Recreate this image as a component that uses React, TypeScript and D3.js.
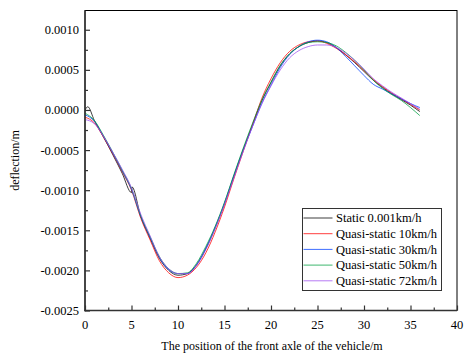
import React, { useEffect, useRef } from 'react';
import * as d3 from 'd3';

// x positions (m) shared by the quasi-static runs
const positions = [
  0, 1, 2, 3, 4, 5, 6, 7, 8, 9, 10, 11, 12, 13, 14, 15, 16, 17, 18,
  19, 20, 21, 22, 23, 24, 25, 26, 27, 28, 29, 30, 31, 32, 33, 34, 35, 36,
];
// the static run has a couple of extra points (start spike and kink at 5 m)
const staticPositions = [
  0, 0.3, 1, 2, 3, 4, 5, 5.05, 6, 7, 8, 9, 10, 11, 12, 13, 14, 15, 16, 17, 18,
  19, 20, 21, 22, 23, 24, 25, 26, 27, 28, 29, 30, 31, 32, 33, 34, 35, 36,
];

const static001 = [
  0.0, 0.00004, -0.00013, -0.00034, -0.00056, -0.00079, -0.00103, -0.00096, -0.00133,
  -0.0016, -0.00185, -0.002, -0.00206, -0.00204, -0.00193, -0.00173, -0.00147, -0.00117,
  -0.00083, -0.0005, -0.00019, 0.00011, 0.00034, 0.00055, 0.0007, 0.00079, 0.00084,
  0.00086, 0.00084, 0.00078, 0.00069, 0.00059, 0.00048, 0.00037, 0.00028, 0.0002,
  0.00013, 0.00006, -0.00002,
];
const quasi10 = [
  -0.00009, -0.00016, -0.00034, -0.00055, -0.00077, -0.001, -0.00135, -0.00162, -0.00188,
  -0.00203, -0.00209, -0.00206, -0.00196, -0.00178, -0.00152, -0.00121, -0.00086, -0.00052,
  -0.00019, 0.00014, 0.00039, 0.00059, 0.00073, 0.00081, 0.00085, 0.00086, 0.00083,
  0.00077, 0.00069, 0.0006, 0.00049, 0.00038, 0.00029, 0.00021, 0.00014, 0.00007, 0.0,
];
const quasi30 = [
  -0.00006, -0.00014, -0.00033, -0.00054, -0.00076, -0.00099, -0.00133, -0.00159, -0.00184,
  -0.00199, -0.00204, -0.00204, -0.00193, -0.00172, -0.00146, -0.00116, -0.00082, -0.0005,
  -0.00021, 0.00008, 0.00031, 0.00053, 0.00069, 0.00079, 0.00085, 0.00087, 0.00085,
  0.00078, 0.00067, 0.00055, 0.00043, 0.00032, 0.00026, 0.0002, 0.00014, 0.00008, 0.00003,
];
const quasi50 = [
  -0.00004, -0.00013, -0.00032, -0.00053, -0.00075, -0.00098, -0.00132, -0.00158, -0.00183,
  -0.00198, -0.00204, -0.00203, -0.00191, -0.0017, -0.00145, -0.00115, -0.00081, -0.00048,
  -0.00017, 0.00012, 0.00035, 0.00056, 0.0007, 0.00079, 0.00084, 0.00085, 0.00084,
  0.0008, 0.00072, 0.00062, 0.0005, 0.00037, 0.00027, 0.00019, 0.00012, 0.00003, -0.00007,
];
const quasi72 = [
  -0.00012, -0.00017, -0.00033, -0.00053, -0.00074, -0.00097, -0.0013, -0.00157, -0.00183,
  -0.00198, -0.00204, -0.00204, -0.00194, -0.00174, -0.00148, -0.00118, -0.00085, -0.00052,
  -0.00021, 0.00007, 0.0003, 0.0005, 0.00065, 0.00074, 0.00079, 0.00081, 0.00081,
  0.00078, 0.00071, 0.00062, 0.00051, 0.00039, 0.0003, 0.00022, 0.00015, 0.00008, 0.00001,
];

const seriesNames = [
  'Static 0.001km/h',
  'Quasi-static 10km/h',
  'Quasi-static 30km/h',
  'Quasi-static 50km/h',
  'Quasi-static 72km/h',
];
const seriesColors = ['#000000', '#ff0000', '#0040ff', '#00a040', '#a050f0'];

const xTicks = [0, 5, 10, 15, 20, 25, 30, 35, 40];
const yTicks = [-0.0025, -0.002, -0.0015, -0.001, -0.0005, 0, 0.0005, 0.001];

const App = () => {
  const chartRef = useRef<SVGSVGElement | null>(null);

  useEffect(() => {
    document.body.style.margin = '0';
    const svg = d3.select(chartRef.current);
    svg.selectAll('*').remove();

    const left = 85, right = 457, top = 10.5, bottom = 310.5;
    const font = '"Liberation Serif", "Times New Roman", serif';

    const x = d3.scaleLinear().domain([0, 40]).range([left, right]);
    const y = d3.scaleLinear().domain([-0.0025, 0.00124]).range([bottom, top]);

    // frame (top / right)
    svg.append('rect')
      .attr('x', left).attr('y', top)
      .attr('width', right - left).attr('height', bottom - top)
      .attr('fill', 'none').attr('stroke', '#000').attr('stroke-width', 1);

    const clip = svg.append('defs').append('clipPath').attr('id', 'plotclip');
    clip.append('rect').attr('x', left).attr('y', top).attr('width', right - left).attr('height', bottom - top);

    const series = [
      { xs: staticPositions, ys: static001 },
      { xs: positions, ys: quasi10 },
      { xs: positions, ys: quasi30 },
      { xs: positions, ys: quasi50 },
      { xs: positions, ys: quasi72 },
    ];

    const line = d3.line<[number, number]>()
      .x(d => x(d[0]))
      .y(d => y(d[1]))
      .curve(d3.curveMonotoneX);

    const g = svg.append('g').attr('clip-path', 'url(#plotclip)');
    series.forEach((s, i) => {
      const pts = s.xs.map((xv, j) => [xv, s.ys[j]] as [number, number]);
      g.append('path')
        .attr('d', line(pts))
        .attr('fill', 'none')
        .attr('stroke', seriesColors[i])
        .attr('stroke-width', 0.9)
        .attr('stroke-opacity', 0.85);
    });

    // x axis, ticks pointing inward
    const xAxis = svg.append('g')
      .attr('transform', `translate(0,${bottom})`)
      .call(d3.axisBottom(x).tickValues(d3.range(0, 40.1, 2.5)).tickSize(-3).tickFormat(() => ''));
    xAxis.select('.domain').remove();
    xAxis.selectAll('.tick line')
      .attr('stroke', '#333')
      .attr('stroke-width', 1.2)
      .attr('y2', (d: any) => (xTicks.includes(d) ? -5 : -3));
    svg.append('line')
      .attr('x1', left - 0.7).attr('x2', right).attr('y1', bottom).attr('y2', bottom)
      .attr('stroke', '#333').attr('stroke-width', 1.5);
    svg.append('g').selectAll('text')
      .data(xTicks)
      .enter().append('text')
      .attr('x', d => x(d))
      .attr('y', bottom + 18)
      .attr('text-anchor', 'middle')
      .attr('font-family', font)
      .attr('font-size', 12.5)
      .text(d => d);

    // y axis, ticks pointing inward
    const yAxis = svg.append('g')
      .attr('transform', `translate(${left},0)`)
      .call(d3.axisLeft(y).tickValues(d3.range(-0.0025, 0.00124, 0.00025)).tickSize(-3).tickFormat(() => ''));
    yAxis.select('.domain').remove();
    yAxis.selectAll('.tick line')
      .attr('stroke', '#333')
      .attr('stroke-width', 1.2)
      .attr('x2', (d: any) => (yTicks.some(t => Math.abs(t - d) < 1e-9) ? 5 : 3));
    svg.append('line')
      .attr('x1', left).attr('x2', left).attr('y1', top).attr('y2', bottom + 0.7)
      .attr('stroke', '#333').attr('stroke-width', 1.5);
    svg.append('g').selectAll('text')
      .data(yTicks)
      .enter().append('text')
      .attr('x', left - 6)
      .attr('y', d => y(d) + 4.5)
      .attr('text-anchor', 'end')
      .attr('font-family', font)
      .attr('font-size', 12.5)
      .text(d => d3.format('.4f')(d).replace('−', '-'));

    // axis titles
    svg.append('text')
      .attr('x', (left + right) / 2 + 1)
      .attr('y', 350)
      .attr('text-anchor', 'middle')
      .attr('font-family', font)
      .attr('font-size', 12)
      .text('The position of the front axle of the vehicle/m');
    svg.append('text')
      .attr('transform', `translate(19,${(top + bottom) / 2}) rotate(-90)`)
      .attr('text-anchor', 'middle')
      .attr('font-family', font)
      .attr('font-size', 12)
      .text('deflection/m');

    // legend
    const lg = svg.append('g');
    lg.append('rect')
      .attr('x', 302.5).attr('y', 208.5)
      .attr('width', 139).attr('height', 82)
      .attr('fill', '#fff').attr('stroke', '#333').attr('stroke-width', 1);
    seriesNames.forEach((name, i) => {
      const ly = 218 + i * 15.7;
      lg.append('line')
        .attr('x1', 303.5).attr('x2', 332.5).attr('y1', ly).attr('y2', ly)
        .attr('stroke', seriesColors[i]).attr('stroke-width', 0.9).attr('stroke-opacity', 0.85);
      lg.append('text')
        .attr('x', 336).attr('y', ly + 4.3)
        .attr('font-family', font)
        .attr('font-size', 12.5)
        .text(name);
    });
  }, []);

  return <svg ref={chartRef} width={467} height={356} style={{ display: 'block', background: '#fff' }} />;
};

export default App;
